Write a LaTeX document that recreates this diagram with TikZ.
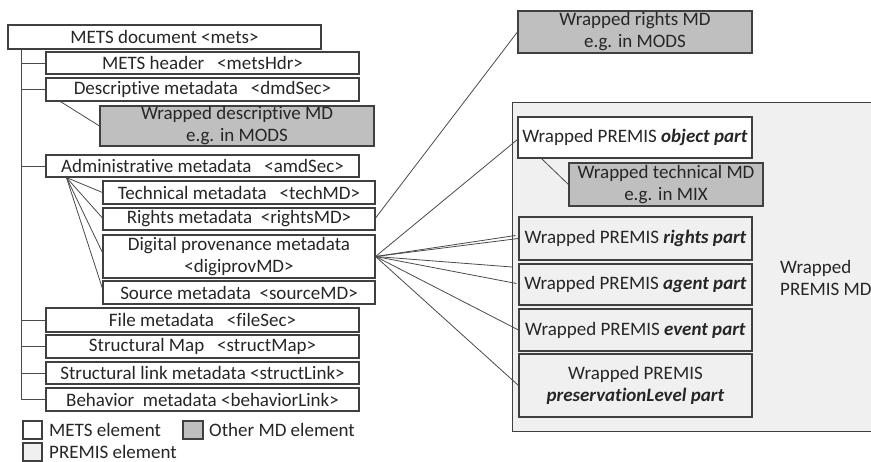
\documentclass[tikz,border=0pt]{standalone}
\usepackage{fontspec}
\setmainfont{Carlito}[Ligatures=NoCommon]
\usetikzlibrary{calc}
\definecolor{bordc}{HTML}{404040}
\definecolor{txtc}{HTML}{262626}
\definecolor{othermd}{HTML}{BFBFBF}
\definecolor{premisbg}{HTML}{F0F0F0}
\definecolor{linec}{HTML}{4A4A4A}
\tikzset{
  box/.style={draw=bordc, line width=1.1pt, inner sep=0pt, align=center, text=txtc,
    font=\fontsize{19}{22}\selectfont},
  metsbox/.style={box, fill=white},
  otherbox/.style={box, fill=othermd},
  premisbox/.style={box, fill=premisbg},
  conn/.style={draw=linec, line width=0.8pt},
  lbl/.style={inner sep=0pt, text=txtc, font=\fontsize{19}{22}\selectfont},
}
\begin{document}
\begin{tikzpicture}[x=1pt,y=-1pt]
\clip (0,0) rectangle (871,462);
\fill[white] (0,0) rectangle (871,462);
% PREMIS container
\node[premisbox, minimum width=380pt, minimum height=329pt, anchor=north west] (premis) at (512,102) {};
\node[lbl, align=left, anchor=west] (premislbl) at (780,277.5) {Wrapped\\PREMIS MD};

% METS tree
\node[metsbox, minimum width=313pt, minimum height=24pt] (mets) at (164.5,37) {METS document <mets>};
\node[metsbox, minimum width=313pt, minimum height=22pt] (hdr) at (202.5,63) {METS header \ \ <metsHdr>};
\node[metsbox, minimum width=313pt, minimum height=23pt] (dmd) at (202.5,89.5) {Descriptive metadata \ \ <dmdSec>};
\node[otherbox, minimum width=274pt, minimum height=40pt] (wdmd) at (237,126) {Wrapped descriptive MD\\e.g. in MODS};
\node[metsbox, minimum width=313pt, minimum height=22pt] (amd) at (202.5,166) {Administrative metadata \ \ <amdSec>};
\node[metsbox, minimum width=272pt, minimum height=23pt] (tech) at (239,192.5) {Technical metadata \ \ <techMD>};
\node[metsbox, minimum width=272pt, minimum height=22pt] (rights) at (239,219) {Rights metadata \ <rightsMD>};
\node[metsbox, minimum width=272pt, minimum height=43pt] (digi) at (239,256.5) {Digital provenance metadata\\<digiprovMD>};
\node[metsbox, minimum width=272pt, minimum height=23pt] (source) at (239,292.5) {Source metadata \ <sourceMD>};
\node[metsbox, minimum width=313pt, minimum height=24pt] (file) at (202.5,320) {File metadata \ \ <fileSec>};
\node[metsbox, minimum width=313pt, minimum height=23pt] (smap) at (202.5,346.5) {Structural Map \ \ <structMap>};
\node[metsbox, minimum width=313pt, minimum height=22pt] (slink) at (202.5,373) {Structural link metadata <structLink>};
\node[metsbox, minimum width=313pt, minimum height=23pt] (behav) at (202.5,399.5) {Behavior \ metadata <behaviorLink>};

% right side
\node[otherbox, minimum width=234pt, minimum height=42pt] (wrights) at (635,32) {Wrapped rights MD\\e.g. in MODS};
\node[metsbox, minimum width=234pt, minimum height=41pt] (obj) at (635,137.5) {Wrapped PREMIS \textbf{\textit{object part}}};
\node[otherbox, minimum width=194pt, minimum height=43pt] (wtech) at (666,184.5) {Wrapped technical MD\\e.g. in MIX};
\node[premisbox, minimum width=233pt, minimum height=43pt] (prights) at (635.5,238.5) {Wrapped PREMIS \textbf{\textit{rights part}}};
\node[premisbox, minimum width=233pt, minimum height=41pt] (agent) at (635.5,284.5) {Wrapped PREMIS \textbf{\textit{agent part}}};
\node[premisbox, minimum width=233pt, minimum height=42pt] (event) at (635.5,330) {Wrapped PREMIS \textbf{\textit{event part}}};
\node[premisbox, minimum width=233pt, minimum height=63pt] (pres) at (635.5,385.5) {Wrapped PREMIS\\\textbf{\textit{preservationLevel part}}};

% legend
\node[metsbox, minimum width=19pt, minimum height=18pt] (legmets) at (32.5,430) {};
\node[lbl, anchor=west] (legmetst) at (49,430) {METS element};
\node[otherbox, minimum width=20pt, minimum height=18pt] (legother) at (193,430) {};
\node[lbl, anchor=west] (legothert) at (209,430) {Other MD element};
\node[premisbox, minimum width=19pt, minimum height=18pt] (legpremis) at (32.5,452) {};
\node[lbl, anchor=west] (legpremist) at (49,452) {PREMIS element};

% trunk
\coordinate (trunk) at ($(mets.south west)+(14,0)$);
\draw[conn] (trunk) |- (behav.west);
\foreach \n in {hdr,dmd,amd,file,smap,slink}
  \draw[conn] (trunk |- \n.west) -- (\n.west);

% dmd -> wrapped descriptive
\coordinate (dmdfoot) at ($(dmd.south west)+(15,0)$);
\draw[conn] (dmdfoot) -- (wdmd.west);

% amd fan
\coordinate (amdfan) at ($(amd.south west)+(21,0)$);
\draw[conn] (amdfan) -- (tech.west);
\draw[conn] (amdfan) -- ($(rights.west)+(0,-1)$);
\draw[conn] (amdfan) -- ($(digi.west)+(0,-4)$);
\draw[conn] (amdfan) -- ($(source.west)+(0,-4)$);

% rights -> wrapped rights
\draw[conn] ($(rights.east)+(0,-1)$) -- (wrights.west);

% digiprov fan
\coordinate (pbox) at ($(premis.north west)+(0,165)$);
\draw[conn] (digi.east) -- ($(obj.west)+(0,2)$);
\draw[conn] (digi.east) -- ($(prights.west)+(-3,-3)$);
\draw[conn] (digi.east) -- (prights.west);
\draw[conn] (digi.east) -- (pbox);
\draw[conn] (digi.east) -- ($(agent.west)+(-2,-1)$);
\draw[conn] (digi.east) -- (event.west);
\draw[conn] (digi.east) -- (pres.west);

% object -> wrapped technical
\coordinate (objfoot) at ($(obj.south west)+(24,0)$);
\draw[conn] (objfoot) -- (wtech.west);
\end{tikzpicture}
\end{document}
